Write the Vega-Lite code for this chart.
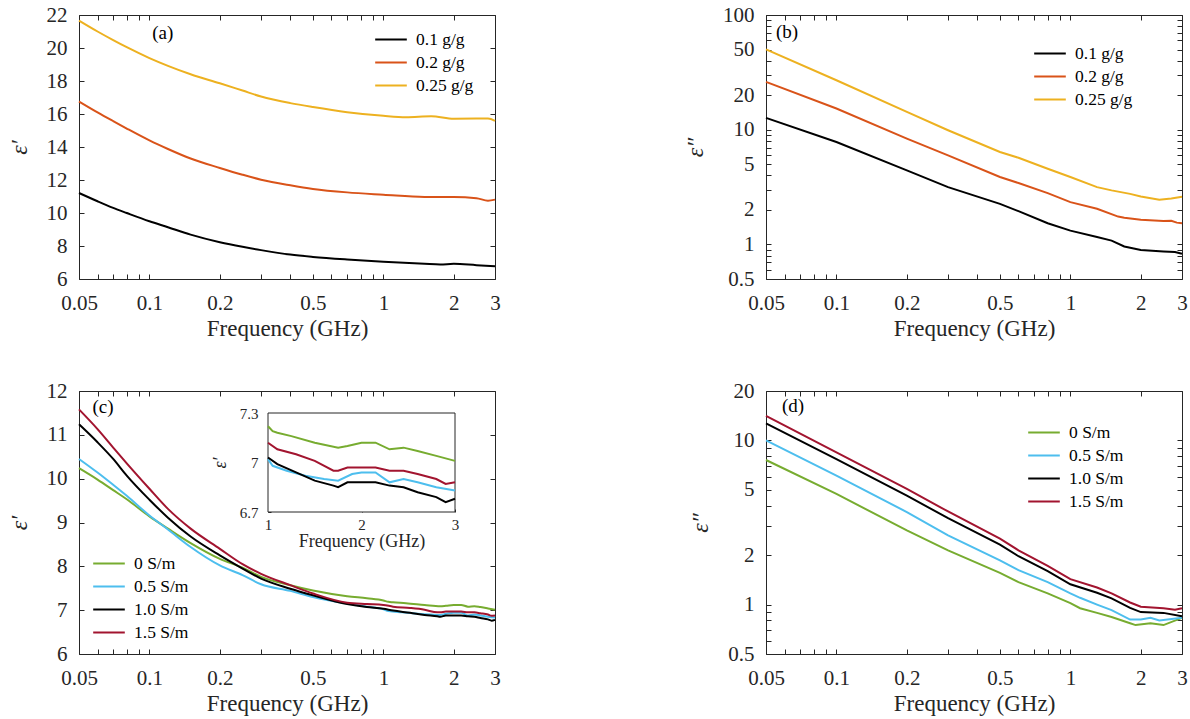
{
"$schema":"https://vega.github.io/schema/vega-lite/v6.json",
"background":"white",
"padding":{"left":6,"top":3,"right":0,"bottom":0},
"config":{
 "view":{"stroke":"#262626","strokeWidth":1},
 "axis":{"labelFont":"Liberation Serif","titleFont":"Liberation Serif","labelFontSize":21,"titleFontSize":23,"labelColor":"#262626","titleColor":"#262626","tickColor":"#262626","domain":false,"grid":false,"titleFontWeight":"normal","labelFlush":false,"labelOverlap":false,"tickSize":-5},
 "legend":{"labelFont":"Liberation Serif","labelFontSize":17.5,"labelColor":"#000000","symbolType":"stroke","symbolSize":1000,"symbolStrokeWidth":2,"labelOffset":8,"rowPadding":4,"clipHeight":19,"padding":0,"orient":"none","title":null},
 "text":{"font":"Liberation Serif","fontSize":19,"color":"#000000"}
},
"datasets":{
 "a":[
  {"f":0.05,"v":11.21,"s":"0.1 g/g"},{"f":0.06,"v":10.71,"s":"0.1 g/g"},{"f":0.07,"v":10.31,"s":"0.1 g/g"},{"f":0.08,"v":10.0,"s":"0.1 g/g"},{"f":0.1,"v":9.5,"s":"0.1 g/g"},{"f":0.12,"v":9.14,"s":"0.1 g/g"},{"f":0.15,"v":8.69,"s":"0.1 g/g"},{"f":0.2,"v":8.23,"s":"0.1 g/g"},{"f":0.25,"v":7.95,"s":"0.1 g/g"},{"f":0.3,"v":7.75,"s":"0.1 g/g"},{"f":0.4,"v":7.48,"s":"0.1 g/g"},{"f":0.5,"v":7.34,"s":"0.1 g/g"},{"f":0.7,"v":7.18,"s":"0.1 g/g"},{"f":1,"v":7.04,"s":"0.1 g/g"},{"f":1.5,"v":6.92,"s":"0.1 g/g"},{"f":1.75,"v":6.88,"s":"0.1 g/g"},{"f":2,"v":6.92,"s":"0.1 g/g"},{"f":2.5,"v":6.84,"s":"0.1 g/g"},{"f":3,"v":6.78,"s":"0.1 g/g"},
  {"f":0.05,"v":16.76,"s":"0.2 g/g"},{"f":0.06,"v":16.1,"s":"0.2 g/g"},{"f":0.07,"v":15.57,"s":"0.2 g/g"},{"f":0.08,"v":15.12,"s":"0.2 g/g"},{"f":0.1,"v":14.4,"s":"0.2 g/g"},{"f":0.12,"v":13.88,"s":"0.2 g/g"},{"f":0.15,"v":13.3,"s":"0.2 g/g"},{"f":0.2,"v":12.73,"s":"0.2 g/g"},{"f":0.25,"v":12.32,"s":"0.2 g/g"},{"f":0.3,"v":12.02,"s":"0.2 g/g"},{"f":0.4,"v":11.68,"s":"0.2 g/g"},{"f":0.5,"v":11.46,"s":"0.2 g/g"},{"f":0.7,"v":11.25,"s":"0.2 g/g"},{"f":1,"v":11.11,"s":"0.2 g/g"},{"f":1.5,"v":10.97,"s":"0.2 g/g"},{"f":2,"v":10.97,"s":"0.2 g/g"},{"f":2.5,"v":10.9,"s":"0.2 g/g"},{"f":2.8,"v":10.75,"s":"0.2 g/g"},{"f":3,"v":10.81,"s":"0.2 g/g"},
  {"f":0.05,"v":21.66,"s":"0.25 g/g"},{"f":0.06,"v":21.0,"s":"0.25 g/g"},{"f":0.07,"v":20.48,"s":"0.25 g/g"},{"f":0.08,"v":20.05,"s":"0.25 g/g"},{"f":0.1,"v":19.39,"s":"0.25 g/g"},{"f":0.12,"v":18.92,"s":"0.25 g/g"},{"f":0.15,"v":18.41,"s":"0.25 g/g"},{"f":0.2,"v":17.86,"s":"0.25 g/g"},{"f":0.25,"v":17.42,"s":"0.25 g/g"},{"f":0.3,"v":17.06,"s":"0.25 g/g"},{"f":0.4,"v":16.66,"s":"0.25 g/g"},{"f":0.5,"v":16.42,"s":"0.25 g/g"},{"f":0.7,"v":16.11,"s":"0.25 g/g"},{"f":1,"v":15.89,"s":"0.25 g/g"},{"f":1.25,"v":15.81,"s":"0.25 g/g"},{"f":1.6,"v":15.86,"s":"0.25 g/g"},{"f":2,"v":15.71,"s":"0.25 g/g"},{"f":2.5,"v":15.72,"s":"0.25 g/g"},{"f":2.8,"v":15.72,"s":"0.25 g/g"},{"f":3,"v":15.58,"s":"0.25 g/g"}
 ],
 "b":[
  {"f":0.05,"v":12.7,"s":"0.1 g/g"},{"f":0.1,"v":7.82,"s":"0.1 g/g"},{"f":0.2,"v":4.42,"s":"0.1 g/g"},{"f":0.3,"v":3.16,"s":"0.1 g/g"},{"f":0.5,"v":2.26,"s":"0.1 g/g"},{"f":0.6,"v":1.95,"s":"0.1 g/g"},{"f":0.8,"v":1.53,"s":"0.1 g/g"},{"f":1,"v":1.32,"s":"0.1 g/g"},{"f":1.3,"v":1.16,"s":"0.1 g/g"},{"f":1.5,"v":1.08,"s":"0.1 g/g"},{"f":1.7,"v":0.96,"s":"0.1 g/g"},{"f":2,"v":0.895,"s":"0.1 g/g"},{"f":2.5,"v":0.87,"s":"0.1 g/g"},{"f":2.8,"v":0.86,"s":"0.1 g/g"},{"f":3,"v":0.83,"s":"0.1 g/g"},
  {"f":0.05,"v":26.1,"s":"0.2 g/g"},{"f":0.1,"v":15.3,"s":"0.2 g/g"},{"f":0.2,"v":8.36,"s":"0.2 g/g"},{"f":0.3,"v":5.98,"s":"0.2 g/g"},{"f":0.5,"v":3.87,"s":"0.2 g/g"},{"f":0.6,"v":3.43,"s":"0.2 g/g"},{"f":0.8,"v":2.8,"s":"0.2 g/g"},{"f":1,"v":2.34,"s":"0.2 g/g"},{"f":1.3,"v":2.05,"s":"0.2 g/g"},{"f":1.6,"v":1.75,"s":"0.2 g/g"},{"f":1.7,"v":1.71,"s":"0.2 g/g"},{"f":2,"v":1.64,"s":"0.2 g/g"},{"f":2.5,"v":1.6,"s":"0.2 g/g"},{"f":2.7,"v":1.61,"s":"0.2 g/g"},{"f":2.85,"v":1.55,"s":"0.2 g/g"},{"f":3,"v":1.53,"s":"0.2 g/g"},
  {"f":0.05,"v":50.1,"s":"0.25 g/g"},{"f":0.1,"v":27.0,"s":"0.25 g/g"},{"f":0.2,"v":14.3,"s":"0.25 g/g"},{"f":0.3,"v":9.9,"s":"0.25 g/g"},{"f":0.5,"v":6.39,"s":"0.25 g/g"},{"f":0.6,"v":5.7,"s":"0.25 g/g"},{"f":0.8,"v":4.57,"s":"0.25 g/g"},{"f":1,"v":3.87,"s":"0.25 g/g"},{"f":1.3,"v":3.16,"s":"0.25 g/g"},{"f":1.5,"v":2.96,"s":"0.25 g/g"},{"f":1.8,"v":2.76,"s":"0.25 g/g"},{"f":2,"v":2.62,"s":"0.25 g/g"},{"f":2.4,"v":2.45,"s":"0.25 g/g"},{"f":2.7,"v":2.52,"s":"0.25 g/g"},{"f":3,"v":2.6,"s":"0.25 g/g"}
 ],
 "c":[
  {"f":0.05,"v":10.24,"s":"0 S/m"},{"f":0.06,"v":9.98,"s":"0 S/m"},{"f":0.07,"v":9.74,"s":"0 S/m"},{"f":0.08,"v":9.53,"s":"0 S/m"},{"f":0.1,"v":9.14,"s":"0 S/m"},{"f":0.12,"v":8.86,"s":"0 S/m"},{"f":0.15,"v":8.53,"s":"0 S/m"},{"f":0.2,"v":8.17,"s":"0 S/m"},{"f":0.25,"v":7.97,"s":"0 S/m"},{"f":0.3,"v":7.76,"s":"0 S/m"},{"f":0.4,"v":7.57,"s":"0 S/m"},{"f":0.5,"v":7.45,"s":"0 S/m"},{"f":0.7,"v":7.32,"s":"0 S/m"},{"f":0.85,"v":7.27,"s":"0 S/m"},{"f":1.0,"v":7.22,"s":"0 S/m"},{"f":1.05,"v":7.19,"s":"0 S/m"},{"f":1.1,"v":7.18,"s":"0 S/m"},{"f":1.25,"v":7.16,"s":"0 S/m"},{"f":1.5,"v":7.12,"s":"0 S/m"},{"f":1.75,"v":7.09,"s":"0 S/m"},{"f":1.85,"v":7.1,"s":"0 S/m"},{"f":2.0,"v":7.12,"s":"0 S/m"},{"f":2.15,"v":7.12,"s":"0 S/m"},{"f":2.3,"v":7.08,"s":"0 S/m"},{"f":2.45,"v":7.09,"s":"0 S/m"},{"f":2.6,"v":7.07,"s":"0 S/m"},{"f":2.8,"v":7.04,"s":"0 S/m"},{"f":3.0,"v":7.01,"s":"0 S/m"},
  {"f":0.05,"v":10.45,"s":"0.5 S/m"},{"f":0.06,"v":10.14,"s":"0.5 S/m"},{"f":0.07,"v":9.86,"s":"0.5 S/m"},{"f":0.08,"v":9.61,"s":"0.5 S/m"},{"f":0.1,"v":9.16,"s":"0.5 S/m"},{"f":0.12,"v":8.84,"s":"0.5 S/m"},{"f":0.15,"v":8.44,"s":"0.5 S/m"},{"f":0.2,"v":8.02,"s":"0.5 S/m"},{"f":0.25,"v":7.8,"s":"0.5 S/m"},{"f":0.3,"v":7.59,"s":"0.5 S/m"},{"f":0.4,"v":7.44,"s":"0.5 S/m"},{"f":0.5,"v":7.3,"s":"0.5 S/m"},{"f":0.7,"v":7.15,"s":"0.5 S/m"},{"f":0.85,"v":7.08,"s":"0.5 S/m"},{"f":1.0,"v":7.02,"s":"0.5 S/m"},{"f":1.05,"v":6.98,"s":"0.5 S/m"},{"f":1.2,"v":6.95,"s":"0.5 S/m"},{"f":1.4,"v":6.92,"s":"0.5 S/m"},{"f":1.6,"v":6.9,"s":"0.5 S/m"},{"f":1.75,"v":6.89,"s":"0.5 S/m"},{"f":1.9,"v":6.93,"s":"0.5 S/m"},{"f":2.0,"v":6.94,"s":"0.5 S/m"},{"f":2.15,"v":6.94,"s":"0.5 S/m"},{"f":2.3,"v":6.88,"s":"0.5 S/m"},{"f":2.45,"v":6.9,"s":"0.5 S/m"},{"f":2.6,"v":6.88,"s":"0.5 S/m"},{"f":2.8,"v":6.85,"s":"0.5 S/m"},{"f":3.0,"v":6.83,"s":"0.5 S/m"},
  {"f":0.05,"v":11.24,"s":"1.0 S/m"},{"f":0.06,"v":10.83,"s":"1.0 S/m"},{"f":0.07,"v":10.45,"s":"1.0 S/m"},{"f":0.08,"v":10.07,"s":"1.0 S/m"},{"f":0.1,"v":9.52,"s":"1.0 S/m"},{"f":0.12,"v":9.11,"s":"1.0 S/m"},{"f":0.15,"v":8.68,"s":"1.0 S/m"},{"f":0.2,"v":8.25,"s":"1.0 S/m"},{"f":0.25,"v":7.95,"s":"1.0 S/m"},{"f":0.3,"v":7.72,"s":"1.0 S/m"},{"f":0.4,"v":7.49,"s":"1.0 S/m"},{"f":0.5,"v":7.34,"s":"1.0 S/m"},{"f":0.7,"v":7.14,"s":"1.0 S/m"},{"f":0.85,"v":7.07,"s":"1.0 S/m"},{"f":1.0,"v":7.03,"s":"1.0 S/m"},{"f":1.1,"v":6.99,"s":"1.0 S/m"},{"f":1.3,"v":6.94,"s":"1.0 S/m"},{"f":1.5,"v":6.89,"s":"1.0 S/m"},{"f":1.7,"v":6.86,"s":"1.0 S/m"},{"f":1.75,"v":6.85,"s":"1.0 S/m"},{"f":1.85,"v":6.88,"s":"1.0 S/m"},{"f":2.0,"v":6.88,"s":"1.0 S/m"},{"f":2.15,"v":6.88,"s":"1.0 S/m"},{"f":2.3,"v":6.86,"s":"1.0 S/m"},{"f":2.45,"v":6.85,"s":"1.0 S/m"},{"f":2.6,"v":6.82,"s":"1.0 S/m"},{"f":2.8,"v":6.79,"s":"1.0 S/m"},{"f":2.9,"v":6.76,"s":"1.0 S/m"},{"f":3.0,"v":6.78,"s":"1.0 S/m"},
  {"f":0.05,"v":11.58,"s":"1.5 S/m"},{"f":0.06,"v":11.13,"s":"1.5 S/m"},{"f":0.07,"v":10.71,"s":"1.5 S/m"},{"f":0.08,"v":10.35,"s":"1.5 S/m"},{"f":0.1,"v":9.77,"s":"1.5 S/m"},{"f":0.12,"v":9.31,"s":"1.5 S/m"},{"f":0.15,"v":8.86,"s":"1.5 S/m"},{"f":0.2,"v":8.4,"s":"1.5 S/m"},{"f":0.25,"v":8.05,"s":"1.5 S/m"},{"f":0.3,"v":7.83,"s":"1.5 S/m"},{"f":0.4,"v":7.57,"s":"1.5 S/m"},{"f":0.5,"v":7.38,"s":"1.5 S/m"},{"f":0.7,"v":7.17,"s":"1.5 S/m"},{"f":0.85,"v":7.14,"s":"1.5 S/m"},{"f":1.0,"v":7.12,"s":"1.5 S/m"},{"f":1.1,"v":7.08,"s":"1.5 S/m"},{"f":1.3,"v":7.05,"s":"1.5 S/m"},{"f":1.5,"v":7.01,"s":"1.5 S/m"},{"f":1.7,"v":6.95,"s":"1.5 S/m"},{"f":1.75,"v":6.95,"s":"1.5 S/m"},{"f":1.85,"v":6.97,"s":"1.5 S/m"},{"f":2.0,"v":6.97,"s":"1.5 S/m"},{"f":2.15,"v":6.97,"s":"1.5 S/m"},{"f":2.3,"v":6.95,"s":"1.5 S/m"},{"f":2.45,"v":6.95,"s":"1.5 S/m"},{"f":2.6,"v":6.93,"s":"1.5 S/m"},{"f":2.8,"v":6.9,"s":"1.5 S/m"},{"f":2.9,"v":6.87,"s":"1.5 S/m"},{"f":3.0,"v":6.88,"s":"1.5 S/m"}
 ],
 "d":[
  {"f":0.05,"v":7.6,"s":"0 S/m"},{"f":0.1,"v":4.72,"s":"0 S/m"},{"f":0.2,"v":2.83,"s":"0 S/m"},{"f":0.3,"v":2.14,"s":"0 S/m"},{"f":0.5,"v":1.56,"s":"0 S/m"},{"f":0.6,"v":1.37,"s":"0 S/m"},{"f":0.8,"v":1.17,"s":"0 S/m"},{"f":1,"v":1.02,"s":"0 S/m"},{"f":1.1,"v":0.95,"s":"0 S/m"},{"f":1.3,"v":0.89,"s":"0 S/m"},{"f":1.5,"v":0.84,"s":"0 S/m"},{"f":1.8,"v":0.77,"s":"0 S/m"},{"f":1.9,"v":0.75,"s":"0 S/m"},{"f":2.2,"v":0.77,"s":"0 S/m"},{"f":2.5,"v":0.75,"s":"0 S/m"},{"f":3,"v":0.83,"s":"0 S/m"},
  {"f":0.05,"v":10.0,"s":"0.5 S/m"},{"f":0.1,"v":6.1,"s":"0.5 S/m"},{"f":0.2,"v":3.66,"s":"0.5 S/m"},{"f":0.3,"v":2.64,"s":"0.5 S/m"},{"f":0.5,"v":1.86,"s":"0.5 S/m"},{"f":0.6,"v":1.62,"s":"0.5 S/m"},{"f":0.8,"v":1.37,"s":"0.5 S/m"},{"f":1,"v":1.17,"s":"0.5 S/m"},{"f":1.1,"v":1.1,"s":"0.5 S/m"},{"f":1.3,"v":1.0,"s":"0.5 S/m"},{"f":1.5,"v":0.925,"s":"0.5 S/m"},{"f":1.8,"v":0.81,"s":"0.5 S/m"},{"f":2,"v":0.81,"s":"0.5 S/m"},{"f":2.2,"v":0.83,"s":"0.5 S/m"},{"f":2.4,"v":0.8,"s":"0.5 S/m"},{"f":3,"v":0.83,"s":"0.5 S/m"},
  {"f":0.05,"v":12.7,"s":"1.0 S/m"},{"f":0.1,"v":7.7,"s":"1.0 S/m"},{"f":0.2,"v":4.61,"s":"1.0 S/m"},{"f":0.3,"v":3.36,"s":"1.0 S/m"},{"f":0.5,"v":2.32,"s":"1.0 S/m"},{"f":0.6,"v":1.97,"s":"1.0 S/m"},{"f":0.8,"v":1.6,"s":"1.0 S/m"},{"f":1,"v":1.33,"s":"1.0 S/m"},{"f":1.3,"v":1.18,"s":"1.0 S/m"},{"f":1.5,"v":1.09,"s":"1.0 S/m"},{"f":1.8,"v":0.955,"s":"1.0 S/m"},{"f":2,"v":0.9,"s":"1.0 S/m"},{"f":2.5,"v":0.89,"s":"1.0 S/m"},{"f":3,"v":0.85,"s":"1.0 S/m"},
  {"f":0.05,"v":14.1,"s":"1.5 S/m"},{"f":0.1,"v":8.45,"s":"1.5 S/m"},{"f":0.2,"v":5.06,"s":"1.5 S/m"},{"f":0.3,"v":3.69,"s":"1.5 S/m"},{"f":0.5,"v":2.52,"s":"1.5 S/m"},{"f":0.6,"v":2.14,"s":"1.5 S/m"},{"f":0.8,"v":1.72,"s":"1.5 S/m"},{"f":1,"v":1.43,"s":"1.5 S/m"},{"f":1.3,"v":1.27,"s":"1.5 S/m"},{"f":1.5,"v":1.17,"s":"1.5 S/m"},{"f":1.8,"v":1.03,"s":"1.5 S/m"},{"f":2,"v":0.97,"s":"1.5 S/m"},{"f":2.5,"v":0.95,"s":"1.5 S/m"},{"f":2.8,"v":0.93,"s":"1.5 S/m"},{"f":3,"v":0.95,"s":"1.5 S/m"}
 ]
},
"columns":2,
"spacing":{"row":112,"column":271},
"bounds":"flush",
"resolve":{"scale":{"color":"independent"},"legend":{"color":"independent"}},
"concat":[
  {"width":416,"height":264,
   "layer":[
    {"data":{"name":"a"},"mark":{"type":"line","strokeWidth":2,"interpolate":"monotone"},
     "encoding":{
      "x":{"field":"f","type":"quantitative","scale":{"type":"log","domain":[0.05,3],"nice":false},"axis":{"orient":"bottom","values":[0.05,0.06,0.07,0.08,0.09,0.1,0.2,0.3,0.4,0.5,0.6,0.7,0.8,0.9,1,2,3],"labelExpr":"indexof([0.05,0.1,0.2,0.5,1,2,3], datum.value) >= 0 ? format(datum.value, '~g') : ''","title":"Frequency (GHz)","labelPadding":18,"titlePadding":4}},
      "y":{"field":"v","type":"quantitative","scale":{"domain":[6,22],"nice":false,"zero":false},"axis":{"orient":"left","values":[6,8,10,12,14,16,18,20,22],"title":"ε′","titleFontStyle":"italic","titleFontSize":24,"labelPadding":17,"titlePadding":15}},
      "color":{"field":"s","type":"nominal","scale":{"domain":["0.1 g/g","0.2 g/g","0.25 g/g"],"range":["#000000","#D95319","#EDB120"]},"legend":{"orient":"none","legendX":295,"legendY":15}}
     }},
    {"data":{"name":"a"},"mark":{"type":"line","opacity":0},
     "encoding":{
      "x":{"field":"f","type":"quantitative","axis":{"orient":"top","values":[0.05,0.06,0.07,0.08,0.09,0.1,0.2,0.3,0.4,0.5,0.6,0.7,0.8,0.9,1,2,3],"labels":false,"title":null}},
      "y":{"field":"v","type":"quantitative","axis":{"orient":"right","values":[6,8,10,12,14,16,18,20,22],"labels":false,"title":null}}
     }},
    {"data":{"values":[{"f":0.114,"v":20.9,"t":"(a)"}]},"mark":{"type":"text","align":"center","baseline":"middle"},
     "encoding":{"x":{"field":"f","type":"quantitative","axis":null},"y":{"field":"v","type":"quantitative","axis":null},"text":{"field":"t"}}}
   ],
   "resolve":{"axis":{"x":"independent","y":"independent"}}
  },
  {"width":416,"height":264,
   "layer":[
    {"data":{"name":"b"},"mark":{"type":"line","strokeWidth":2},
     "encoding":{
      "x":{"field":"f","type":"quantitative","scale":{"type":"log","domain":[0.05,3],"nice":false},"axis":{"orient":"bottom","values":[0.05,0.06,0.07,0.08,0.09,0.1,0.2,0.3,0.4,0.5,0.6,0.7,0.8,0.9,1,2,3],"labelExpr":"indexof([0.05,0.1,0.2,0.5,1,2,3], datum.value) >= 0 ? format(datum.value, '~g') : ''","title":"Frequency (GHz)","labelPadding":18,"titlePadding":4}},
      "y":{"field":"v","type":"quantitative","scale":{"type":"log","domain":[0.5,100],"nice":false},"axis":{"orient":"left","values":[0.5,0.6,0.7,0.8,0.9,1,2,3,4,5,6,7,8,9,10,20,30,40,50,60,70,80,90,100],"labelExpr":"indexof([0.5,1,2,5,10,20,50,100], datum.value) >= 0 ? format(datum.value, '~g') : ''","title":"ε″","titleFontStyle":"italic","titleFontSize":24,"labelPadding":17,"titlePadding":15}},
      "color":{"field":"s","type":"nominal","scale":{"domain":["0.1 g/g","0.2 g/g","0.25 g/g"],"range":["#000000","#D95319","#EDB120"]},"legend":{"orient":"none","legendX":267,"legendY":29}}
     }},
    {"data":{"name":"b"},"mark":{"type":"line","opacity":0},
     "encoding":{
      "x":{"field":"f","type":"quantitative","axis":{"orient":"top","values":[0.05,0.06,0.07,0.08,0.09,0.1,0.2,0.3,0.4,0.5,0.6,0.7,0.8,0.9,1,2,3],"labels":false,"title":null}},
      "y":{"field":"v","type":"quantitative","axis":{"orient":"right","values":[0.5,0.6,0.7,0.8,0.9,1,2,3,4,5,6,7,8,9,10,20,30,40,50,60,70,80,90,100],"labels":false,"title":null}}
     }},
    {"data":{"values":[{"f":0.0615,"v":71,"t":"(b)"}]},"mark":{"type":"text","align":"center","baseline":"middle"},
     "encoding":{"x":{"field":"f","type":"quantitative","axis":null},"y":{"field":"v","type":"quantitative","axis":null},"text":{"field":"t"}}}
   ],
   "resolve":{"axis":{"x":"independent","y":"independent"}}
  },
  {"width":416,"height":263,
   "layer":[
    {"layer":[
      {"data":{"name":"c"},"mark":{"type":"line","strokeWidth":2,"interpolate":"monotone"},
       "encoding":{
        "x":{"field":"f","type":"quantitative","scale":{"type":"log","domain":[0.05,3],"nice":false},"axis":{"orient":"bottom","values":[0.05,0.06,0.07,0.08,0.09,0.1,0.2,0.3,0.4,0.5,0.6,0.7,0.8,0.9,1,2,3],"labelExpr":"indexof([0.05,0.1,0.2,0.5,1,2,3], datum.value) >= 0 ? format(datum.value, '~g') : ''","title":"Frequency (GHz)","labelPadding":18,"titlePadding":4}},
        "y":{"field":"v","type":"quantitative","scale":{"domain":[6,12],"nice":false,"zero":false},"axis":{"orient":"left","values":[6,7,8,9,10,11,12],"title":"ε′","titleFontStyle":"italic","titleFontSize":24,"labelPadding":17,"titlePadding":15}},
        "color":{"field":"s","type":"nominal","scale":{"domain":["0 S/m","0.5 S/m","1.0 S/m","1.5 S/m"],"range":["#77AC30","#4DBEEE","#000000","#A2142F"]},"legend":{"orient":"none","legendX":13,"legendY":163}}
       }},
      {"data":{"name":"c"},"mark":{"type":"line","opacity":0},
       "encoding":{
        "x":{"field":"f","type":"quantitative","axis":{"orient":"top","values":[0.05,0.06,0.07,0.08,0.09,0.1,0.2,0.3,0.4,0.5,0.6,0.7,0.8,0.9,1,2,3],"labels":false,"title":null}},
        "y":{"field":"v","type":"quantitative","axis":{"orient":"right","values":[6,7,8,9,10,11,12],"labels":false,"title":null}}
       }},
      {"data":{"values":[{"f":0.0633,"v":11.64,"t":"(c)"}]},"mark":{"type":"text","align":"center","baseline":"middle"},
       "encoding":{"x":{"field":"f","type":"quantitative","axis":null},"y":{"field":"v","type":"quantitative","axis":null},"text":{"field":"t"}}}
     ],
     "resolve":{"axis":{"x":"independent","y":"independent"}}
    },
    {"layer":[
      {"data":{"values":[{"f1":1,"f2":3,"v1":6.7,"v2":7.3}]},"mark":{"type":"rect","fill":"white","stroke":"#262626","strokeWidth":1},
       "encoding":{"x":{"field":"f1","type":"quantitative","axis":null},"x2":{"field":"f2"},"y":{"field":"v1","type":"quantitative","axis":null},"y2":{"field":"v2"}}},
      {"data":{"name":"c"},"transform":[{"filter":"datum.f >= 1"}],"mark":{"type":"line","strokeWidth":2},
       "encoding":{
        "x":{"field":"f","type":"quantitative","scale":{"type":"linear","domain":[1,3],"nice":false,"zero":false,"range":[189,376]},"axis":{"orient":"bottom","offset":-142,"values":[1,2,3],"format":"~g","title":"Frequency (GHz)","labelFontSize":15,"titleFontSize":18,"tickSize":-3,"labelPadding":8,"titlePadding":0}},
        "y":{"field":"v","type":"quantitative","scale":{"domain":[6.7,7.3],"nice":false,"zero":false,"range":[121,22]},"axis":{"orient":"left","offset":-189,"values":[6.7,7,7.3],"format":"~g","title":"ε′","titleFontStyle":"italic","labelFontSize":15,"titleFontSize":18,"tickSize":-3,"labelPadding":13,"titlePadding":10}},
        "color":{"field":"s","type":"nominal","legend":null}
       }}
     ],
     "resolve":{"axis":{"x":"independent","y":"independent"}}
    }
   ],
   "resolve":{"scale":{"x":"independent","y":"independent"},"axis":{"x":"independent","y":"independent"},"legend":{"color":"independent"}}
  },
  {"width":416,"height":263,
   "layer":[
    {"data":{"name":"d"},"mark":{"type":"line","strokeWidth":2},
     "encoding":{
      "x":{"field":"f","type":"quantitative","scale":{"type":"log","domain":[0.05,3],"nice":false},"axis":{"orient":"bottom","values":[0.05,0.06,0.07,0.08,0.09,0.1,0.2,0.3,0.4,0.5,0.6,0.7,0.8,0.9,1,2,3],"labelExpr":"indexof([0.05,0.1,0.2,0.5,1,2,3], datum.value) >= 0 ? format(datum.value, '~g') : ''","title":"Frequency (GHz)","labelPadding":18,"titlePadding":4}},
      "y":{"field":"v","type":"quantitative","scale":{"type":"log","domain":[0.5,20],"nice":false},"axis":{"orient":"left","values":[0.5,0.6,0.7,0.8,0.9,1,2,3,4,5,6,7,8,9,10,20],"labelExpr":"indexof([0.5,1,2,5,10,20], datum.value) >= 0 ? format(datum.value, '~g') : ''","title":"ε″","titleFontStyle":"italic","titleFontSize":24,"labelPadding":17,"titlePadding":15}},
      "color":{"field":"s","type":"nominal","scale":{"domain":["0 S/m","0.5 S/m","1.0 S/m","1.5 S/m"],"range":["#77AC30","#4DBEEE","#000000","#A2142F"]},"legend":{"orient":"none","legendX":261,"legendY":32}}
     }},
    {"data":{"name":"d"},"mark":{"type":"line","opacity":0},
     "encoding":{
      "x":{"field":"f","type":"quantitative","axis":{"orient":"top","values":[0.05,0.06,0.07,0.08,0.09,0.1,0.2,0.3,0.4,0.5,0.6,0.7,0.8,0.9,1,2,3],"labels":false,"title":null}},
      "y":{"field":"v","type":"quantitative","axis":{"orient":"right","values":[0.5,0.6,0.7,0.8,0.9,1,2,3,4,5,6,7,8,9,10,20],"labels":false,"title":null}}
     }},
    {"data":{"values":[{"f":0.0652,"v":16.2,"t":"(d)"}]},"mark":{"type":"text","align":"center","baseline":"middle"},
     "encoding":{"x":{"field":"f","type":"quantitative","axis":null},"y":{"field":"v","type":"quantitative","axis":null},"text":{"field":"t"}}}
   ],
   "resolve":{"axis":{"x":"independent","y":"independent"}}
  }
]
}
